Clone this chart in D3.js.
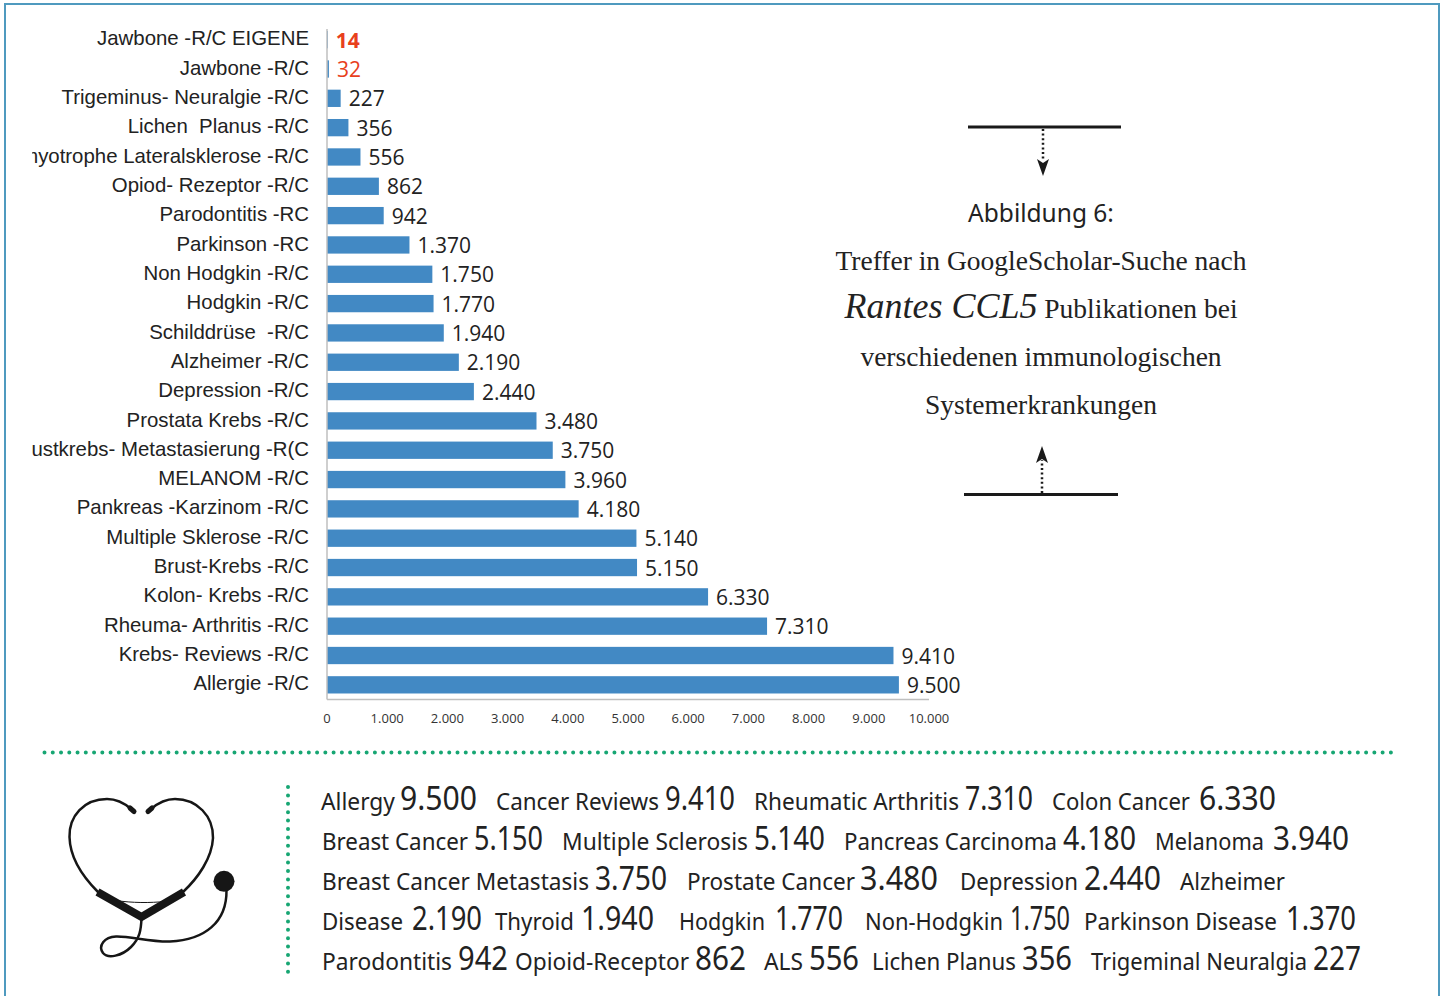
<!doctype html>
<html>
  <head>
    <meta charset="utf-8">
    <title>Rantes CCL5</title>
    <script src="https://d3js.org/d3.v7.min.js"></script>
    <style>
      html, body { margin: 0; padding: 0; background: #fff; }
      svg { display: block; }
      .axis text { font-family: "Open Sans", sans-serif; font-size: 13px; fill: #333; }
      .cat { font-family: "Liberation Sans", sans-serif; font-size: 20.4px; fill: #222; }
      .val { font-family: "Open Sans", sans-serif; font-size: 21px; fill: #222; }
      .serif { font-family: "Liberation Serif", serif; font-size: 27.5px; fill: #222; }
      .item { font-family: "Noto Sans", sans-serif; font-size: 24px; fill: #222; }
      .num { font-family: "Noto Sans", sans-serif; font-size: 33px; font-weight: 400; fill: #222; }
    </style>
  </head>
  <body>
    <div id="chart"></div>
    <script>
      var categories = ['Jawbone -R/C EIGENE', 'Jawbone -R/C', 'Trigeminus- Neuralgie -R/C', 'Lichen  Planus -R/C',
        'Amyotrophe Lateralsklerose -R/C', 'Opiod- Rezeptor -R/C', 'Parodontitis -RC', 'Parkinson -RC',
        'Non Hodgkin -R/C', 'Hodgkin -R/C', 'Schilddrüse  -R/C', 'Alzheimer -R/C', 'Depression -R/C',
        'Prostata Krebs -R/C', 'Brustkrebs- Metastasierung -R(C', 'MELANOM -R/C', 'Pankreas -Karzinom -R/C',
        'Multiple Sklerose -R/C', 'Brust-Krebs -R/C', 'Kolon- Krebs -R/C', 'Rheuma- Arthritis -R/C',
        'Krebs- Reviews -R/C', 'Allergie -R/C'];
      var values = [14, 32, 227, 356, 556, 862, 942, 1370, 1750, 1770, 1940, 2190, 2440, 3480, 3750, 3960, 4180,
        5140, 5150, 6330, 7310, 9410, 9500];
      var xTicks = [0, 1000, 2000, 3000, 4000, 5000, 6000, 7000, 8000, 9000, 10000];

      var captionHead = 'Abbildung 6:';
      var captionLine1 = 'Treffer in GoogleScholar-Suche nach';
      var captionItalic = 'Rantes CCL5';
      var captionLine2 = ' Publikationen bei';
      var captionLine3 = 'verschiedenen immunologischen';
      var captionLine4 = 'Systemerkrankungen';

      // bottom text block, one list per line
      var summary = [
        ['Allergy', '9.500', 'Cancer Reviews', '9.410', 'Rheumatic Arthritis', '7.310', 'Colon Cancer', '6.330'],
        ['Breast Cancer', '5.150', 'Multiple Sclerosis', '5.140', 'Pancreas Carcinoma', '4.180', 'Melanoma', '3.940'],
        ['Breast Cancer Metastasis', '3.750', 'Prostate Cancer', '3.480', 'Depression', '2.440', 'Alzheimer'],
        ['Disease', '2.190', 'Thyroid', '1.940', 'Hodgkin', '1.770', 'Non-Hodgkin', '1.750', 'Parkinson Disease', '1.370'],
        ['Parodontitis', '942', 'Opioid-Receptor', '862', 'ALS', '556', 'Lichen Planus', '356', 'Trigeminal Neuralgia', '227']
      ];
      var summaryX = [
        [321, 400, 496, 665, 754, 965, 1052, 1199],
        [322, 474, 562, 754, 844, 1063, 1155, 1273],
        [322, 595, 687, 860, 960, 1084, 1180],
        [322, 412, 495, 581, 679, 775, 865, 1010, 1084, 1286],
        [322, 458, 515, 695, 764, 809, 872, 1022, 1091, 1313]
      ];
      // right edge of each piece, the fallback font runs wider than the original
      var summaryEnd = [
        [395, 477, 659, 735, 959, 1033, 1190, 1276],
        [468, 543, 748, 825, 1057, 1136, 1264, 1349],
        [589, 667, 855, 938, 1078, 1161, 1285],
        [403, 482, 574, 654, 765, 843, 1003, 1070, 1277, 1356],
        [452, 508, 689, 746, 803, 859, 1016, 1072, 1307, 1361]
      ];

      var width = 1445, height = 996;
      var svg = d3.select('#chart').append('svg').attr('width', width).attr('height', height);

      // frame, runs off the bottom
      svg.append('path')
        .attr('d', 'M5,996V4H1439V996')
        .attr('fill', 'none')
        .attr('stroke', '#4f9abf')
        .attr('stroke-width', 2);

      var de = d3.formatLocale({ decimal: ',', thousands: '.', grouping: [3], currency: ['', ''] });
      var fmt = de.format(',');

      var x = d3.scaleLinear().domain([0, 10000]).range([327, 929]);
      var y = d3.scaleBand().domain(categories).range([25, 699.5]).paddingInner(0.41).paddingOuter(0.205);

      svg.append('defs').append('clipPath').attr('id', 'labelClip')
        .append('rect').attr('x', 32).attr('y', 0).attr('width', 300).attr('height', 720);

      svg.append('g').selectAll('rect')
        .data(values)
        .enter().append('rect')
        .attr('x', x(0))
        .attr('y', function(d, i) { return y(categories[i]); })
        .attr('width', function(d) { return x(d) - x(0); })
        .attr('height', y.bandwidth())
        .attr('fill', '#4289c4');

      var xAxis = svg.append('g').attr('class', 'axis')
        .attr('transform', 'translate(0,699.5)')
        .call(d3.axisBottom(x).tickValues(xTicks).tickSize(0).tickPadding(14).offset(0).tickFormat(fmt));
      xAxis.select('.domain').attr('stroke', '#bfbfbf').attr('stroke-width', 1.5);

      svg.append('line')
        .attr('x1', x(0)).attr('x2', x(0)).attr('y1', 29).attr('y2', 699.5)
        .attr('stroke', '#bfbfbf').attr('stroke-width', 1.5);

      svg.append('g').attr('clip-path', 'url(#labelClip)').selectAll('text')
        .data(categories)
        .enter().append('text')
        .attr('class', 'cat')
        .attr('x', 309)
        .attr('y', function(d) { return y(d) + y.bandwidth() / 2 + 5.6; })
        .attr('text-anchor', 'end')
        .style('white-space', 'pre')
        .text(function(d) { return d; });

      svg.append('g').selectAll('text')
        .data(values)
        .enter().append('text')
        .attr('class', 'val')
        .attr('x', function(d) { return x(d) + 8; })
        .attr('y', function(d, i) { return y(categories[i]) + y.bandwidth() / 2 + 8; })
        .style('fill', function(d, i) { return i < 2 ? '#e8401c' : null; })
        .style('font-weight', function(d, i) { return i === 0 ? 700 : null; })
        .text(fmt);

      // caption
      svg.append('text').attr('x', 1041).attr('y', 222).attr('text-anchor', 'middle')
        .style('font-family', '"Noto Sans", sans-serif').style('font-size', '24.5px').style('fill', '#222')
        .text(captionHead);
      svg.append('text').attr('class', 'serif').attr('x', 1041).attr('y', 270).attr('text-anchor', 'middle').text(captionLine1);
      var mixed = svg.append('text').attr('class', 'serif').attr('x', 1041).attr('y', 318).attr('text-anchor', 'middle').style('white-space', 'pre');
      mixed.append('tspan').style('font-style', 'italic').style('font-size', '36px').text(captionItalic);
      mixed.append('tspan').text(captionLine2);
      svg.append('text').attr('class', 'serif').attr('x', 1041).attr('y', 366).attr('text-anchor', 'middle').text(captionLine3);
      svg.append('text').attr('class', 'serif').attr('x', 1041).attr('y', 414).attr('text-anchor', 'middle').text(captionLine4);

      // bars and dotted arrows around the caption
      function rule(x1, x2, yy) {
        svg.append('line').attr('x1', x1).attr('x2', x2).attr('y1', yy).attr('y2', yy)
          .attr('stroke', '#1a1a1a').attr('stroke-width', 3);
      }
      function dotted(xx, y1, y2) {
        svg.append('line').attr('x1', xx).attr('x2', xx).attr('y1', y1).attr('y2', y2)
          .attr('stroke', '#1a1a1a').attr('stroke-width', 2.5).attr('stroke-dasharray', '2 2.6');
      }
      rule(968, 1121, 127);
      dotted(1043, 129, 160);
      svg.append('path').attr('d', 'M1037,159L1043,163L1049,159L1043,176Z').attr('fill', '#1a1a1a');
      rule(964, 1118, 494.5);
      dotted(1042, 493, 460);
      svg.append('path').attr('d', 'M1036,463L1042,459L1048,463L1042,446Z').attr('fill', '#1a1a1a');

      // green dotted separators
      function dots(x1, y1, x2, y2, gap) {
        svg.append('line').attr('x1', x1).attr('y1', y1).attr('x2', x2).attr('y2', y2)
          .attr('stroke', '#17a673').attr('stroke-width', 4)
          .attr('stroke-linecap', 'round').attr('stroke-dasharray', '0 ' + gap);
      }
      dots(44.5, 752.5, 1391.5, 752.5, 8.26);
      dots(288, 787, 288, 975, 8.4);

      // summary lines
      summary.forEach(function(row, r) {
        svg.append('g').selectAll('text')
          .data(row)
          .enter().append('text')
          .attr('class', function(d) { return /^[\d.]+$/.test(d) ? 'num' : 'item'; })
          .attr('x', function(d, i) { return summaryX[r][i]; })
          .attr('y', 809.5 + r * 40)
          .attr('textLength', function(d, i) { return summaryEnd[r][i] - summaryX[r][i]; })
          .attr('lengthAdjust', 'spacingAndGlyphs')
          .text(function(d) { return d; });
      });

      // stethoscope
      var st = svg.append('g').attr('fill', 'none').attr('stroke', '#161616').attr('stroke-linecap', 'round');
      st.append('path').attr('stroke-width', 2.5)
        .attr('d', 'M131,809C122,801 114,799 107,799C84,799 69,816 69.5,837C70,858 84,878 98,892');
      st.append('path').attr('stroke-width', 2.5)
        .attr('d', 'M151,809C158,803 166,799 175,799C197,799 213.5,816 213,838C212,858 198,878 183,892');
      st.append('path').attr('stroke-width', 5).attr('d', 'M130,808L134,811.5');
      st.append('path').attr('stroke-width', 5).attr('d', 'M152,808L148,811.5');
      st.append('path').attr('stroke-width', 8).attr('stroke-linecap', 'butt').attr('stroke-linejoin', 'miter')
        .attr('d', 'M97.5,892L141.5,917L184,892');
      st.append('path').attr('stroke-width', 1).attr('d', 'M116,900.5C132,903 150,903 165,901.5');
      st.append('path').attr('stroke-width', 2.5)
        .attr('d', 'M141.5,918C141,930 140,938 131,947C122,956 108,959 103,953C98,946 104,937 116,936.5C130,936 150,942 170,941.5C205,940 227,922 226.5,890');
      st.append('circle').attr('cx', 224).attr('cy', 881.3).attr('r', 10.5).attr('fill', '#161616').attr('stroke', 'none');
    </script>
  </body>
</html>
